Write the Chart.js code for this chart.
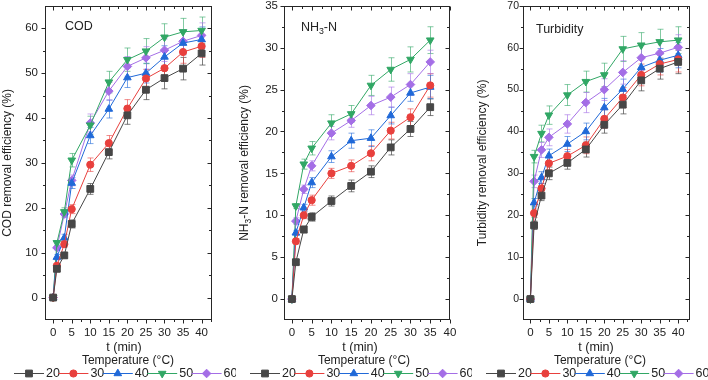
<!DOCTYPE html>
<html>
<head>
<meta charset="utf-8">
<script src="https://cdn.jsdelivr.net/npm/chart.js@4.4.0/dist/chart.umd.min.js"></script>
<style>
  body { margin: 0; background: #fff; width: 708px; height: 380px; position: relative; overflow: hidden; }
  canvas { position: absolute; top: 0; }
</style>
</head>
<body>
<canvas id="cod" width="236" height="380" style="left:0"></canvas>
<canvas id="nh3" width="236" height="380" style="left:236px"></canvas>
<canvas id="tur" width="236" height="380" style="left:472px"></canvas>
<script>
// temperatures (legend)
var temps = ['20', '30', '40', '50', '60'];

// COD
var tCod = [0, 1, 3, 5, 10, 15, 20, 25, 30, 35, 40];
var cod20 = [0, 6.4, 9.4, 16.4, 24.2, 32.4, 40.6, 46.3, 48.9, 51.0, 54.4];
var cod30 = [0, 7.1, 11.9, 19.7, 29.6, 34.4, 42.1, 48.8, 51.1, 54.7, 56.0];
var cod40 = [0, 9.0, 13.3, 25.5, 36.1, 42.0, 49.0, 50.0, 53.6, 56.7, 57.5];
var cod50 = [0, 12.2, 19.1, 30.6, 38.4, 48.0, 53.0, 54.9, 58.0, 59.2, 59.5];
var cod60 = [0, 11.1, 18.6, 26.1, 38.9, 46.0, 51.5, 53.4, 55.1, 57.1, 58.4];
var codErr20 = [0, 0.5, 0.6, 0.9, 1.2, 1.5, 2.0, 2.2, 2.4, 2.5, 2.6];
var codErr30 = [0, 0.5, 0.7, 1.0, 1.5, 1.7, 2.0, 2.0, 2.2, 2.5, 2.5];
var codErr40 = [0, 0.6, 0.8, 1.2, 1.8, 2.0, 2.2, 2.2, 2.5, 2.6, 2.8];
var codErr50 = [0, 0.5, 0.9, 1.5, 2.0, 2.4, 2.6, 2.8, 3.0, 3.0, 3.0];
var codErr60 = [0, 0.5, 0.8, 1.2, 2.0, 2.0, 2.2, 2.5, 2.5, 2.6, 2.8];
var codTicks = [0, 10, 20, 30, 40, 50, 60];

// NH3-N
var tNh3 = [0, 1, 3, 5, 10, 15, 20, 25, 30, 35];
var nh20 = [0, 4.4, 8.3, 9.8, 11.7, 13.5, 15.2, 18.1, 20.3, 22.9];
var nh30 = [0, 6.9, 10.0, 11.8, 15.0, 15.9, 17.4, 20.1, 21.7, 25.5];
var nh40 = [0, 7.9, 10.9, 13.9, 17.0, 18.9, 19.2, 21.9, 24.6, 25.3];
var nh50 = [0, 11.1, 16.1, 18.0, 21.0, 22.1, 25.5, 27.4, 28.6, 30.9];
var nh60 = [0, 9.3, 13.1, 15.9, 19.8, 21.3, 23.1, 24.1, 25.6, 28.3];
var nhErr20 = [0, 0.3, 0.4, 0.5, 0.6, 0.7, 0.7, 0.9, 0.9, 1.0];
var nhErr30 = [0, 0.3, 0.4, 0.6, 0.6, 0.7, 0.9, 1.0, 1.0, 1.4];
var nhErr40 = [0, 0.3, 0.4, 0.6, 0.7, 0.9, 1.0, 1.0, 1.0, 1.4];
var nhErr50 = [0, 0.3, 0.6, 0.8, 1.0, 1.0, 1.2, 1.4, 1.5, 1.6];
var nhErr60 = [0, 0.4, 0.5, 0.6, 0.8, 0.8, 1.1, 1.2, 1.3, 1.4];
var nhTicks = [0, 5, 10, 15, 20, 25, 30, 35];

// Turbidity
var tTur = [0, 1, 3, 5, 10, 15, 20, 25, 30, 35, 40];
var tu20 = [0, 17.6, 24.7, 30.0, 32.5, 35.7, 41.6, 46.4, 52.2, 55.0, 56.6];
var tu30 = [0, 20.5, 26.4, 32.4, 34.1, 36.7, 43.0, 48.1, 53.5, 56.1, 57.2];
var tu40 = [0, 23.0, 29.0, 34.2, 37.0, 40.0, 45.7, 50.1, 55.3, 57.0, 58.2];
var tu50 = [0, 34.0, 39.5, 43.9, 48.7, 51.9, 53.5, 59.7, 60.6, 61.4, 61.8];
var tu60 = [0, 28.1, 35.6, 38.6, 41.8, 46.9, 50.0, 54.1, 57.6, 58.7, 60.1];
var tuErr20 = [0, 1.0, 1.2, 1.5, 1.5, 1.8, 2.0, 2.2, 2.5, 2.5, 2.8];
var tuErr30 = [0, 1.0, 1.2, 1.5, 1.6, 2.0, 2.2, 2.4, 2.6, 2.6, 3.0];
var tuErr40 = [0, 1.0, 1.4, 1.6, 1.8, 2.0, 2.2, 2.4, 2.6, 2.8, 3.0];
var tuErr50 = [0, 1.5, 2.0, 2.2, 2.5, 2.5, 2.8, 3.0, 3.0, 3.0, 3.2];
var tuErr60 = [0, 1.5, 1.8, 2.0, 2.2, 2.4, 2.6, 2.8, 3.0, 3.0, 3.0];
var tuTicks = [0, 10, 20, 30, 40, 50, 60, 70];

var xTicks = [0, 5, 10, 15, 20, 25, 30, 35, 40];

// styles
var FONT = '"Liberation Sans", Arial, sans-serif';
var TXT = '#222';
var colors = ['#474747', '#e8403d', '#2069d8', '#31a765', '#a46ee6'];
var errColors = ['rgba(71,71,71,0.7)', 'rgba(232,64,61,0.6)', 'rgba(32,105,216,0.6)', 'rgba(49,167,101,0.6)', 'rgba(164,110,230,0.6)'];
var markers = ['rect', 'circle', 'triangle', 'triangle', 'rectRot'];
var rotations = [0, 0, 0, 180, 0];
var radii = [4.8, 3.6, 4.4, 4.4, 4.3];

// extra drawing info for each canvas
var extras = {};

// draw text with a subscript part, centred on (x, y)
function drawRich(ctx, parts, x, y, size) {
    var total = 0;
    parts.forEach(function (p) {
        ctx.font = (p.sub ? size * 0.7 : size) + 'px ' + FONT;
        p.w = ctx.measureText(p.t).width;
        total += p.w;
    });
    var cx = x - total / 2;
    ctx.textAlign = 'left';
    ctx.textBaseline = 'middle';
    parts.forEach(function (p) {
        ctx.font = (p.sub ? size * 0.7 : size) + 'px ' + FONT;
        ctx.fillText(p.t, cx, p.sub ? y + size * 0.3 : y);
        cx += p.w;
    });
}

var decor = {
    id: 'decor',
    beforeDatasetsDraw: function (chart) {
        var ex = extras[chart.canvas.id];
        var ctx = chart.ctx;
        var ys = chart.scales.y;
        ctx.save();
        ctx.lineWidth = 1;
        chart.data.datasets.forEach(function (ds, i) {
            var meta = chart.getDatasetMeta(i);
            ctx.strokeStyle = errColors[i];
            meta.data.forEach(function (pt, j) {
                var e = ex.errs[i][j];
                if (!e) return;
                var v = ds.data[j].y;
                var y1 = ys.getPixelForValue(v + e);
                var y2 = ys.getPixelForValue(v - e);
                var x = Math.round(pt.x) + 0.5;
                ctx.beginPath();
                ctx.moveTo(x, y1); ctx.lineTo(x, y2);
                ctx.moveTo(x - 3, y1); ctx.lineTo(x + 3, y1);
                ctx.moveTo(x - 3, y2); ctx.lineTo(x + 3, y2);
                ctx.stroke();
            });
        });
        ctx.restore();
    },
    afterDraw: function (chart) {
        var ex = extras[chart.canvas.id];
        var ctx = chart.ctx;
        var a = chart.chartArea;
        var xs = chart.scales.x, ys = chart.scales.y;
        ctx.save();
        // frame
        ctx.strokeStyle = '#262626';
        ctx.lineWidth = 1;
        var L = Math.round(a.left) + 0.5, R = Math.round(a.right) - 0.5;
        var T = Math.round(a.top) + 0.5, B = Math.round(a.bottom) - 0.5;
        ctx.strokeRect(L, T, R - L, B - T);
        ctx.beginPath();
        // x ticks: out at bottom, in at top
        xTicks.forEach(function (v) {
            var px = Math.round(xs.getPixelForValue(v)) + 0.5;
            ctx.moveTo(px, B); ctx.lineTo(px, B + 4);
            ctx.moveTo(px, T); ctx.lineTo(px, T + 4);
            var m = v + 2.5;
            if (m < xs.max) {
                var pm = Math.round(xs.getPixelForValue(m)) + 0.5;
                ctx.moveTo(pm, B); ctx.lineTo(pm, B + 2.5);
                ctx.moveTo(pm, T); ctx.lineTo(pm, T + 2.5);
            }
        });
        // y ticks: out at left, in at right
        ex.yTicks.forEach(function (v) {
            var py = Math.round(ys.getPixelForValue(v)) + 0.5;
            ctx.moveTo(L - 4, py); ctx.lineTo(L, py);
            ctx.moveTo(R - 4, py); ctx.lineTo(R, py);
            var m = v + ex.yMinor;
            if (m < ys.max) {
                var pm = Math.round(ys.getPixelForValue(m)) + 0.5;
                ctx.moveTo(L - 2.5, pm); ctx.lineTo(L, pm);
                ctx.moveTo(R - 2.5, pm); ctx.lineTo(R, pm);
            }
        });
        ctx.stroke();

        ctx.fillStyle = TXT;
        // panel label inside the plot
        ctx.textBaseline = 'middle';
        var lw = 0;
        ex.label.forEach(function (p) { ctx.font = (p.sub ? 8.5 : 12.5) + 'px ' + FONT; lw += ctx.measureText(p.t).width; });
        drawRich(ctx, ex.label, a.left + ex.labelDx + lw / 2, ex.labelY, 12.5);

        // y title, rotated
        ctx.save();
        ctx.translate(ex.yTitleX, (a.top + a.bottom) / 2);
        ctx.rotate(-Math.PI / 2);
        drawRich(ctx, ex.yTitle, 0, 0, 12);
        ctx.restore();

        // x title and legend title
        ctx.textAlign = 'center';
        ctx.font = '12.5px ' + FONT;
        ctx.fillText('t (min)', 124, 348);
        ctx.font = '12px ' + FONT;
        ctx.fillText('Temperature (°C)', 128, 361);

        // legend: line with marker, then the label
        var itemW = 44.4, lineLen = 30;
        var x0 = 125 - itemW * temps.length / 2;
        var ly = 373.5;
        chart.data.datasets.forEach(function (ds, i) {
            var sx = x0 + i * itemW;
            ctx.strokeStyle = colors[i];
            ctx.fillStyle = colors[i];
            ctx.lineWidth = 1;
            ctx.beginPath();
            ctx.moveTo(sx, ly); ctx.lineTo(sx + lineLen, ly);
            ctx.stroke();
            Chart.helpers.drawPoint(ctx, { pointStyle: markers[i], rotation: rotations[i], radius: radii[i], borderWidth: 1 }, sx + lineLen / 2, ly);
            ctx.fillStyle = TXT;
            ctx.textAlign = 'left';
            ctx.font = '12.5px ' + FONT;
            ctx.fillText(temps[i], sx + lineLen + 2, ly);
        });
        ctx.restore();
    }
};

function makePanel(id, cfg) {
    extras[id] = cfg;
    var datasets = cfg.series.map(function (vals, i) {
        return {
            label: temps[i],
            data: cfg.times.map(function (t, j) { return { x: t, y: vals[j] }; }),
            borderColor: colors[i],
            backgroundColor: colors[i],
            borderWidth: 1,
            pointStyle: markers[i],
            rotation: rotations[i],
            pointRadius: radii[i],
            pointBorderWidth: 1,
            tension: 0
        };
    });
    new Chart(document.getElementById(id), {
        type: 'line',
        data: { datasets: datasets },
        options: {
            responsive: false,
            animation: false,
            events: [],
            layout: { padding: { left: 0, right: cfg.padRight, top: 5, bottom: 0 } },
            plugins: { legend: { display: false }, tooltip: { enabled: false } },
            scales: {
                x: {
                    type: 'linear',
                    min: cfg.xMin,
                    max: cfg.xMax,
                    grid: { display: false, drawTicks: false },
                    border: { display: false },
                    afterBuildTicks: function (s) { s.ticks = xTicks.map(function (v) { return { value: v }; }); },
                    afterFit: function (s) { s.height = 60; s.paddingLeft = 0; s.paddingRight = 0; },
                    ticks: { padding: 6, maxRotation: 0, autoSkip: false, color: TXT, font: { family: FONT, size: 11.5 } }
                },
                y: {
                    min: cfg.yMin,
                    max: cfg.yMax,
                    grid: { display: false, drawTicks: false },
                    border: { display: false },
                    afterBuildTicks: function (s) { s.ticks = cfg.yTicks.map(function (v) { return { value: v }; }); },
                    afterFit: function (s) { s.width = cfg.yWidth; s.paddingTop = 0; s.paddingBottom = 0; },
                    ticks: { padding: cfg.yPad, autoSkip: false, color: TXT, font: { family: FONT, size: cfg.yFont } }
                }
            }
        },
        plugins: [decor]
    });
}

makePanel('cod', {
    times: tCod,
    series: [cod20, cod30, cod40, cod50, cod60],
    errs: [codErr20, codErr30, codErr40, codErr50, codErr60],
    yTicks: codTicks, yMinor: 5, yMin: -5, yMax: 65,
    xMin: -2.2, xMax: 42.8,
    yWidth: 45, padRight: 24, yPad: 7, yFont: 11.5,
    yTitleX: 8,
    yTitle: [{ t: 'COD removal efficiency (%)' }],
    label: [{ t: 'COD' }], labelDx: 20, labelY: 27
});

makePanel('nh3', {
    times: tNh3,
    series: [nh20, nh30, nh40, nh50, nh60],
    errs: [nhErr20, nhErr30, nhErr40, nhErr50, nhErr60],
    yTicks: nhTicks, yMinor: 2.5, yMin: -2.5, yMax: 35,
    xMin: -2, xMax: 40,
    yWidth: 48, padRight: 22, yPad: 6, yFont: 11.5,
    yTitleX: 9,
    yTitle: [{ t: 'NH' }, { t: '3', sub: true }, { t: '-N removal efficiency (%)' }],
    label: [{ t: 'NH' }, { t: '3', sub: true }, { t: '-N' }], labelDx: 17, labelY: 28
});

makePanel('tur', {
    times: tTur,
    series: [tu20, tu30, tu40, tu50, tu60],
    errs: [tuErr20, tuErr30, tuErr40, tuErr50, tuErr60],
    yTicks: tuTicks, yMinor: 5, yMin: -5, yMax: 70,
    xMin: -2, xMax: 43.2,
    yWidth: 51, padRight: 18, yPad: 4, yFont: 10.5,
    yTitleX: 11,
    yTitle: [{ t: 'Turbidity removal efficiency (%)' }],
    label: [{ t: 'Turbidity' }], labelDx: 13, labelY: 30
});
</script>
</body>
</html>
